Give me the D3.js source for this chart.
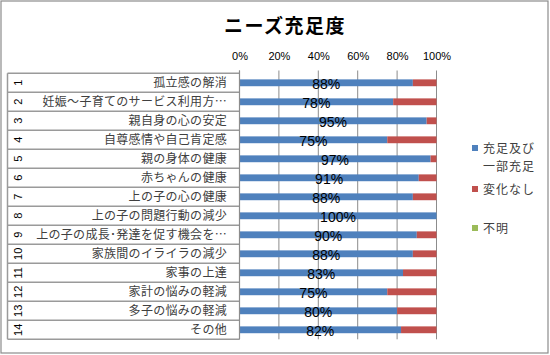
<!DOCTYPE html>
<html><head><meta charset="utf-8">
<script src="https://cdn.jsdelivr.net/npm/d3@7"></script>
<style>
body{margin:0;background:#fff;}
svg{display:block;}
</style></head><body>
<svg id="c" width="550" height="355"></svg>
<script>
const title = "ニーズ充足度";
const rowNumbers = ["1","2","3","4","5","6","7","8","9","10","11","12","13","14"];
const categories = ["孤立感の解消","妊娠～子育てのサービス利用方…","親自身の心の安定","自尊感情や自己肯定感","親の身体の健康","赤ちゃんの健康","上の子の心の健康","上の子の問題行動の減少","上の子の成長･発達を促す機会を…","家族間のイライラの減少","家事の上達","家計の悩みの軽減","多子の悩みの軽減","その他"];
const satisfied = [88,78,95,75,97,91,88,100,90,88,83,75,80,82];
const unchanged = [12,22,5,25,3,9,12,0,10,12,17,25,20,18];
const unknown = [0,0,0,0,0,0,0,0,0,0,0,0,0,0];
const seriesNames = ["充足及び\n一部充足","変化なし","不明"];
const seriesColors = ["#4F81BD","#C0504D","#9BBB59"];
const xTicks = [0,20,40,60,80,100];

const svg = d3.select("#c");
const font = "'Liberation Sans', 'Noto Sans CJK JP', sans-serif";
const cjk = "'Noto Sans CJK JP', sans-serif";

// border
svg.append("rect").attr("x",1).attr("y",1).attr("width",547).attr("height",352)
  .attr("fill","#fff").attr("stroke","#8c8c8c").attr("stroke-width",1.2);

const x = d3.scaleLinear().domain([0,100]).range([239.5,436.5]);
const y = d3.scaleBand().domain(d3.range(categories.length)).range([73.3,339.3]).paddingInner(0).paddingOuter(0);
const barH = y.step()*0.36;

// title
svg.append("text").attr("x",285).attr("y",33).attr("text-anchor","middle")
  .attr("font-family",cjk).attr("font-weight","bold").attr("font-size",19)
  .attr("letter-spacing",1.5).attr("fill","#000").text(title);

// gridlines
svg.append("g").selectAll("line").data(xTicks).join("line")
  .attr("x1",d=>x(d)).attr("x2",d=>x(d)).attr("y1",70.5).attr("y2",339.3)
  .attr("stroke","#8c8c8c").attr("stroke-width",1);

// top axis labels
const ax = svg.append("g").attr("transform","translate(0,70)")
  .call(d3.axisTop(x).tickValues(xTicks).tickFormat(d=>d+"%").tickSize(0).tickPadding(10));
ax.select(".domain").remove();
ax.selectAll("text").attr("font-family",font).attr("font-size",11).attr("fill","#000");

// stacked bars
const stackData = categories.map((c,i)=>({i, s0:satisfied[i], s1:unchanged[i], s2:unknown[i]}));
const stack = d3.stack().keys(["s0","s1","s2"])(stackData);
stack.forEach((layer,k)=>{
  svg.append("g").selectAll("rect").data(layer).join("rect")
    .attr("x",d=>x(d[0])).attr("width",d=>Math.max(0,x(d[1])-x(d[0])))
    .attr("y",d=>y(d.data.i)+y.step()/2-barH/2).attr("height",barH)
    .attr("fill",seriesColors[k]);
});

// data labels
svg.append("g").selectAll("text").data(stackData).join("text")
  .attr("x",d=>x(d.s0/2)).attr("y",d=>y(d.i)+y.step()/2+6)
  .attr("text-anchor","middle").attr("font-family",font).attr("font-size",14).attr("fill","#000")
  .text(d=>d.s0+"%");

// table lines
const tbl = svg.append("g");
const lines = d3.range(categories.length+1);
tbl.selectAll("line.h").data(lines).join("line").attr("class","h")
  .attr("x1",7.5).attr("x2",239.5)
  .attr("y1",d=>d===categories.length? y.range()[1] : y(d)).attr("y2",d=>d===categories.length? y.range()[1] : y(d))
  .attr("stroke","#9a9a9a").attr("stroke-width",1.5);
tbl.append("line").attr("x1",7.5).attr("x2",7.5).attr("y1",73.3).attr("y2",339.3).attr("stroke","#9a9a9a").attr("stroke-width",1.5);
tbl.append("line").attr("x1",239.5).attr("x2",239.5).attr("y1",70.5).attr("y2",339.3).attr("stroke","#8c8c8c").attr("stroke-width",1.2);

// category labels
svg.append("g").selectAll("text").data(categories).join("text")
  .attr("x",227).attr("y",(d,i)=>y(i)+y.step()/2+4.5)
  .attr("text-anchor","end").attr("font-family",cjk).attr("font-size",12)
  .attr("letter-spacing",0.3).attr("fill","#404040").text(d=>d);

// row numbers (rotated)
svg.append("g").selectAll("text").data(rowNumbers).join("text")
  .attr("transform",(d,i)=>`translate(22,${y(i)+y.step()/2}) rotate(-90)`)
  .attr("text-anchor","middle").attr("font-family",font).attr("font-size",11)
  .attr("fill","#000").text(d=>d);

// legend
const legY = [148,189,228];
const lg = svg.append("g");
seriesNames.forEach((n,k)=>{
  lg.append("rect").attr("x",472).attr("y",legY[k]-3).attr("width",6).attr("height",6).attr("fill",seriesColors[k]);
  const parts = n.split("\n");
  parts.forEach((p,j)=>{
    lg.append("text").attr("x",483).attr("y",legY[k]+4.5+j*18.5)
      .attr("font-family",cjk).attr("font-size",12).attr("letter-spacing",1)
      .attr("fill","#404040").text(p);
  });
});
</script>
</body></html>
